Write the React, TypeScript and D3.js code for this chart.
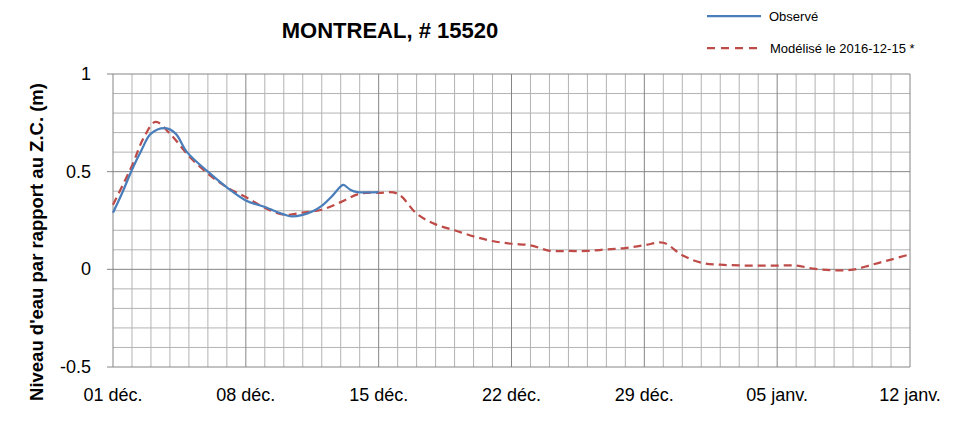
import React from "react";
import * as d3 from "d3";

const TITLE = "MONTREAL, # 15520";
const Y_TITLE = "Niveau d'eau par rapport au Z.C. (m)";
const LEGEND_OBS = "Observé";
const LEGEND_MOD = "Modélisé le 2016-12-15 *";

// days since 2016-12-01
const obsDays = [0, 0.5, 1, 1.5, 2, 2.76, 3.3, 3.9, 5, 6, 7, 8, 9, 9.4, 10, 10.5, 11, 11.5, 12, 12.15, 12.5, 12.9, 13.5, 14];
const obsValues = [0.29, 0.395, 0.51, 0.61, 0.695, 0.723, 0.695, 0.60, 0.50, 0.42, 0.353, 0.319, 0.281, 0.271, 0.279, 0.296, 0.325, 0.37, 0.425, 0.432, 0.408, 0.395, 0.394, 0.395];

const modDays = [0, 1, 1.6, 2.24, 3, 4, 5, 6, 7, 8, 9, 10, 11, 12, 13, 14, 15, 16, 17, 18, 19, 20, 21, 22, 23, 24, 25, 26, 27, 28, 29, 30, 31, 32, 33, 34, 35, 36, 37, 38, 39, 40, 41, 42];
const modValues = [0.33, 0.53, 0.67, 0.755, 0.695, 0.58, 0.49, 0.42, 0.37, 0.315, 0.28, 0.29, 0.305, 0.344, 0.387, 0.392, 0.387, 0.285, 0.23, 0.2, 0.169, 0.145, 0.131, 0.123, 0.095, 0.094, 0.094, 0.102, 0.109, 0.123, 0.136, 0.072, 0.034, 0.024, 0.02, 0.019, 0.019, 0.019, 0.002, -0.005, -0.002, 0.024, 0.05, 0.077];

const xTickDays = [0, 7, 14, 21, 28, 35, 42];
const xTickLabels = ["01 déc.", "08 déc.", "15 déc.", "22 déc.", "29 déc.", "05 janv.", "12 janv."];
const yTicks = [-0.5, 0, 0.5, 1];
const yTickLabels = ["-0.5", "0", "0.5", "1"];

const W = 971;
const H = 421;
const M = { left: 113, right: 910, top: 74, bottom: 367 };
const FONT = "'Liberation Sans', Arial, sans-serif";

export default function App() {
  const x = d3.scaleLinear().domain([0, 42]).range([M.left, M.right]);
  const y = d3.scaleLinear().domain([-0.5, 1]).range([M.bottom, M.top]);

  const smoothLine = d3
    .line<[number, number]>()
    .x((d) => x(d[0]))
    .y((d) => y(d[1]))
    .curve(d3.curveCatmullRom.alpha(0.5));

  const obsPath = smoothLine(obsDays.map((d, i) => [d, obsValues[i]]) as [number, number][]) || "";
  const modPath = smoothLine(modDays.map((d, i) => [d, modValues[i]]) as [number, number][]) || "";

  const dayGrid = d3.range(0, 43);
  const valGrid = d3.range(-5, 11).map((v) => v / 10);

  return (
    <svg width={W} height={H} style={{ position: "absolute", left: 0, top: 0, background: "#fff" }} fontFamily={FONT}>
      <rect x={0} y={0} width={W} height={H} fill="#fff" />
      {/* minor grid */}
      {dayGrid.filter((d) => d % 7 !== 0).map((d) => (
        <line key={"vx" + d} x1={x(d)} x2={x(d)} y1={M.top} y2={M.bottom} stroke="#b3b3b3" strokeWidth={1} />
      ))}
      {valGrid.filter((v) => Math.abs(v * 2 - Math.round(v * 2)) > 1e-6).map((v) => (
        <line key={"hy" + v} x1={M.left} x2={M.right} y1={y(v)} y2={y(v)} stroke="#b3b3b3" strokeWidth={1} />
      ))}
      {/* major grid */}
      {xTickDays.map((d) => (
        <line key={"VX" + d} x1={x(d)} x2={x(d)} y1={M.top} y2={M.bottom} stroke="#858585" strokeWidth={1} />
      ))}
      {yTicks.map((v) => (
        <line key={"HY" + v} x1={M.left - 6} x2={M.right} y1={y(v)} y2={y(v)} stroke="#858585" strokeWidth={1} />
      ))}
      {/* series */}
      <path d={modPath} fill="none" stroke="#be4b48" strokeWidth={2.25} strokeDasharray="8,5" />
      <path d={obsPath} fill="none" stroke="#4a7ebb" strokeWidth={2.25} />
      {/* y ticks */}
      {yTicks.map((v, i) => (
        <text key={"yt" + v} x={91} y={y(v)} textAnchor="end" dominantBaseline="central" fontSize={18} fill="#000">
          {yTickLabels[i]}
        </text>
      ))}
      {/* x ticks */}
      {xTickDays.map((d, i) => (
        <text key={"xt" + d} x={x(d)} y={401} textAnchor="middle" fontSize={18} fill="#000">
          {xTickLabels[i]}
        </text>
      ))}
      {/* y title */}
      <text
        transform="translate(36,242) rotate(-90)"
        textAnchor="middle"
        dominantBaseline="central"
        fontSize={18.5}
        fontWeight="bold"
        fill="#000"
      >
        {Y_TITLE}
      </text>
      {/* title */}
      <text x={390} y={38} textAnchor="middle" fontSize={22} fontWeight="bold" fill="#000">
        {TITLE}
      </text>
      {/* legend */}
      <line x1={707} x2={761} y1={16} y2={16} stroke="#4a7ebb" strokeWidth={2.25} />
      <text x={769} y={20.5} fontSize={13} fill="#000">{LEGEND_OBS}</text>
      <line x1={707} x2={761} y1={48} y2={48} stroke="#be4b48" strokeWidth={2.25} strokeDasharray="8,6" />
      <text x={770} y={52.5} fontSize={13} fill="#000">{LEGEND_MOD}</text>
    </svg>
  );
}
